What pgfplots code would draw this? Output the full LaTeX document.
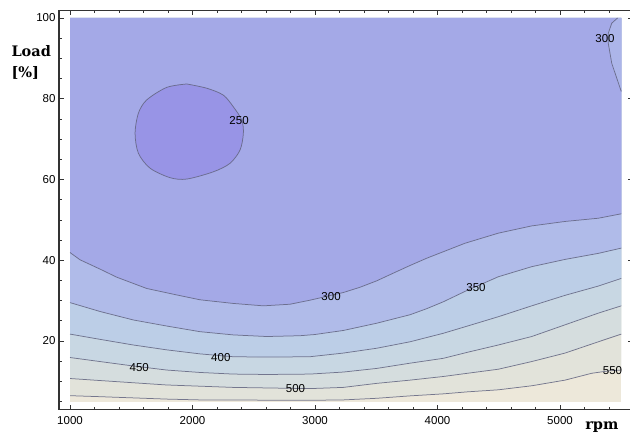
\documentclass[border=0pt]{standalone}
\usepackage{pgfplots}
\pgfplotsset{compat=1.18}
\usepackage{fontspec}
\setmainfont{Liberation Sans}
\newfontfamily\labfont{DejaVu Serif}
\definecolor{cA}{RGB}{234,228,212}
\definecolor{cB}{RGB}{224,226,218}
\definecolor{cC}{RGB}{212,221,224}
\definecolor{cD}{RGB}{198,214,228}
\definecolor{cE}{RGB}{186,205,232}
\definecolor{cF}{RGB}{174,184,234}
\definecolor{cG}{RGB}{163,167,231}
\definecolor{cH}{RGB}{151,145,230}
\definecolor{cline}{RGB}{98,100,128}
\begin{document}
\begin{tikzpicture}[x=1pt,y=1pt]
\useasboundingbox (0,0) rectangle (630,437);
\begin{axis}[
  at={(59pt,27.8pt)}, anchor=south west,
  scale only axis, width=573.3pt, height=398.9pt,
  xmin=910, xmax=5590, ymin=3.1, ymax=101.9,
  axis on top=true,
  xtick={1000,2000,3000,4000,5000},
  ytick={20,40,60,80,100},
  minor xtick={1200,1400,...,5400},
  minor ytick={5,10,...,100},
  tick align=inside,
  major tick length=4.5pt, minor tick length=2.5pt,
  every tick/.style={black!80, line width=0.6pt},
  axis line style={black!80, line width=1.1pt},
  /pgf/number format/assume math mode=true,
  /pgf/number format/set thousands separator={},
  tick label style={font=\fontsize{11.5}{13}\selectfont, black},
  xticklabel style={yshift=-4pt},
]
% filled bands
\addplot[draw=none, fill=cA] coordinates {(1000,5) (5500,5) (5500,100) (1000,100)};
\addplot[draw=none, fill=cB] coordinates {(1000,6.45) (1245,6.2) (1789,5.6) (2061,5.4) (2959,5.3) (3231,5.4) (3504,5.8) (3776,6.4) (4047,6.9) (4245,7.4) (4496,7.9) (4769,8.9) (5041,10.3) (5259,12.0) (5400,12.6) (5500,12.8) (5500,100) (1000,100)};
\addplot[draw=none, fill=cC] coordinates {(1000,10.7) (1245,10.2) (1789,9.1) (2331,8.5) (2739,8.3) (2959,8.2) (3231,8.5) (3504,9.5) (3776,10.3) (4047,11.2) (4245,12.0) (4496,13.0) (4769,14.9) (5041,17.0) (5313,19.8) (5500,21.7) (5500,100) (1000,100)};
\addplot[draw=none, fill=cD] coordinates {(1000,15.9) (1245,14.9) (1517,13.8) (1789,12.8) (2061,12.2) (2331,11.8) (2606,11.7) (2959,11.8) (3231,12.3) (3504,13.2) (3776,14.5) (4047,15.7) (4245,17.2) (4496,19.0) (4769,21.1) (5041,24.0) (5313,26.9) (5500,28.7) (5500,100) (1000,100)};
\addplot[draw=none, fill=cE] coordinates {(1000,21.7) (1245,20.4) (1517,19.0) (1789,17.8) (2061,16.8) (2331,16.1) (2606,16.0) (2959,16.1) (3231,17.0) (3504,18.2) (3776,19.8) (4047,21.9) (4245,23.7) (4496,26.0) (4769,28.7) (5041,31.3) (5313,33.6) (5500,35.5) (5500,100) (1000,100)};
\addplot[draw=none, fill=cF] coordinates {(1000,29.5) (1245,27.3) (1517,25.2) (1789,23.7) (2061,22.3) (2333,21.5) (2606,21.1) (2878,21.3) (3000,21.6) (3231,22.6) (3504,24.4) (3776,26.5) (3912,28.0) (4047,29.7) (4233,32.4) (4496,35.9) (4769,38.4) (5041,40.2) (5313,41.7) (5500,43.0) (5500,100) (1000,100)};
\addplot[draw=none, fill=cG] coordinates {(1000,41.9) (1082,40.1) (1245,37.8) (1381,35.8) (1626,33.0) (1871,31.4) (2061,30.2) (2331,29.3) (2578,28.7) (2796,29.1) (2959,30.1) (3231,32.0) (3367,33.3) (3504,34.9) (3639,36.8) (3776,38.7) (3912,40.5) (4047,42.1) (4224,44.2) (4496,46.7) (4769,48.5) (5041,49.6) (5313,50.4) (5500,51.5) (5500,100) (1000,100)};
\addplot[draw=none, fill=cF] coordinates {(5470,100) (5422,98.7) (5394,96.2) (5394,93.7) (5422,88.8) (5463,85.1) (5500,81.8) (5500,100)};
\addplot[draw=none, fill=cH, smooth, tension=0.5] coordinates {(1953,83.65) (2116,82.6) (2251,80.9) (2333,78.0) (2402,74.7) (2415,71.4) (2388,67.3) (2306,64.0) (2170,61.9) (1953,60.1) (1816,60.45) (1653,62.8) (1558,66.5) (1531,71.4) (1558,76.4) (1626,79.7) (1789,82.8) (1953,83.65)};
% contour lines
\pgfplotsset{every axis plot/.append style={draw=cline, line width=0.75pt, opacity=0.85}}
\addplot[] coordinates {(1000,6.45) (1245,6.2) (1789,5.6) (2061,5.4) (2959,5.3) (3231,5.4) (3504,5.8) (3776,6.4) (4047,6.9) (4245,7.4) (4496,7.9) (4769,8.9) (5041,10.3) (5259,12.0) (5400,12.6) (5500,12.8)};
\addplot[] coordinates {(1000,10.7) (1245,10.2) (1789,9.1) (2331,8.5) (2739,8.3) (2959,8.2) (3231,8.5) (3504,9.5) (3776,10.3) (4047,11.2) (4245,12.0) (4496,13.0) (4769,14.9) (5041,17.0) (5313,19.8) (5500,21.7)};
\addplot[] coordinates {(1000,15.9) (1245,14.9) (1517,13.8) (1789,12.8) (2061,12.2) (2331,11.8) (2606,11.7) (2959,11.8) (3231,12.3) (3504,13.2) (3776,14.5) (4047,15.7) (4245,17.2) (4496,19.0) (4769,21.1) (5041,24.0) (5313,26.9) (5500,28.7)};
\addplot[] coordinates {(1000,21.7) (1245,20.4) (1517,19.0) (1789,17.8) (2061,16.8) (2331,16.1) (2606,16.0) (2959,16.1) (3231,17.0) (3504,18.2) (3776,19.8) (4047,21.9) (4245,23.7) (4496,26.0) (4769,28.7) (5041,31.3) (5313,33.6) (5500,35.5)};
\addplot[] coordinates {(1000,29.5) (1245,27.3) (1517,25.2) (1789,23.7) (2061,22.3) (2333,21.5) (2606,21.1) (2878,21.3) (3000,21.6) (3231,22.6) (3504,24.4) (3776,26.5) (3912,28.0) (4047,29.7) (4233,32.4) (4496,35.9) (4769,38.4) (5041,40.2) (5313,41.7) (5500,43.0)};
\addplot[] coordinates {(1000,41.9) (1082,40.1) (1245,37.8) (1381,35.8) (1626,33.0) (1871,31.4) (2061,30.2) (2331,29.3) (2578,28.7) (2796,29.1) (2959,30.1) (3231,32.0) (3367,33.3) (3504,34.9) (3639,36.8) (3776,38.7) (3912,40.5) (4047,42.1) (4224,44.2) (4496,46.7) (4769,48.5) (5041,49.6) (5313,50.4) (5500,51.5)};
\addplot[] coordinates {(5470,100) (5422,98.7) (5394,96.2) (5394,93.7) (5422,88.8) (5463,85.1) (5500,81.8)};
\addplot[smooth, tension=0.5] coordinates {(1953,83.65) (2116,82.6) (2251,80.9) (2333,78.0) (2402,74.7) (2415,71.4) (2388,67.3) (2306,64.0) (2170,61.9) (1953,60.1) (1816,60.45) (1653,62.8) (1558,66.5) (1531,71.4) (1558,76.4) (1626,79.7) (1789,82.8) (1953,83.65)};
% contour labels
\begin{scope}[every node/.style={font=\fontsize{11.5}{13}\selectfont, inner sep=0pt, text=black}]
\node at (axis cs:2380,74.7) {250};
\node at (axis cs:5367,95.0) {300};
\node at (axis cs:3131,31.0) {300};
\node at (axis cs:4314,33.3) {350};
\node at (axis cs:2231,16.0) {400};
\node at (axis cs:1565,13.3) {450};
\node at (axis cs:2841,8.2) {500};
\node at (axis cs:5428,12.7) {550};
\end{scope}
\end{axis}
\node[anchor=base west, font=\labfont\bfseries\fontsize{14.5}{16}\selectfont] at (8,380) {Load};
\node[anchor=base west, font=\labfont\bfseries\fontsize{14.5}{16}\selectfont] at (8,359) {[\%]};
\node[anchor=base east, font=\labfont\bfseries\fontsize{14.5}{16}\selectfont] at (622,7) {rpm};
\end{tikzpicture}
\end{document}
